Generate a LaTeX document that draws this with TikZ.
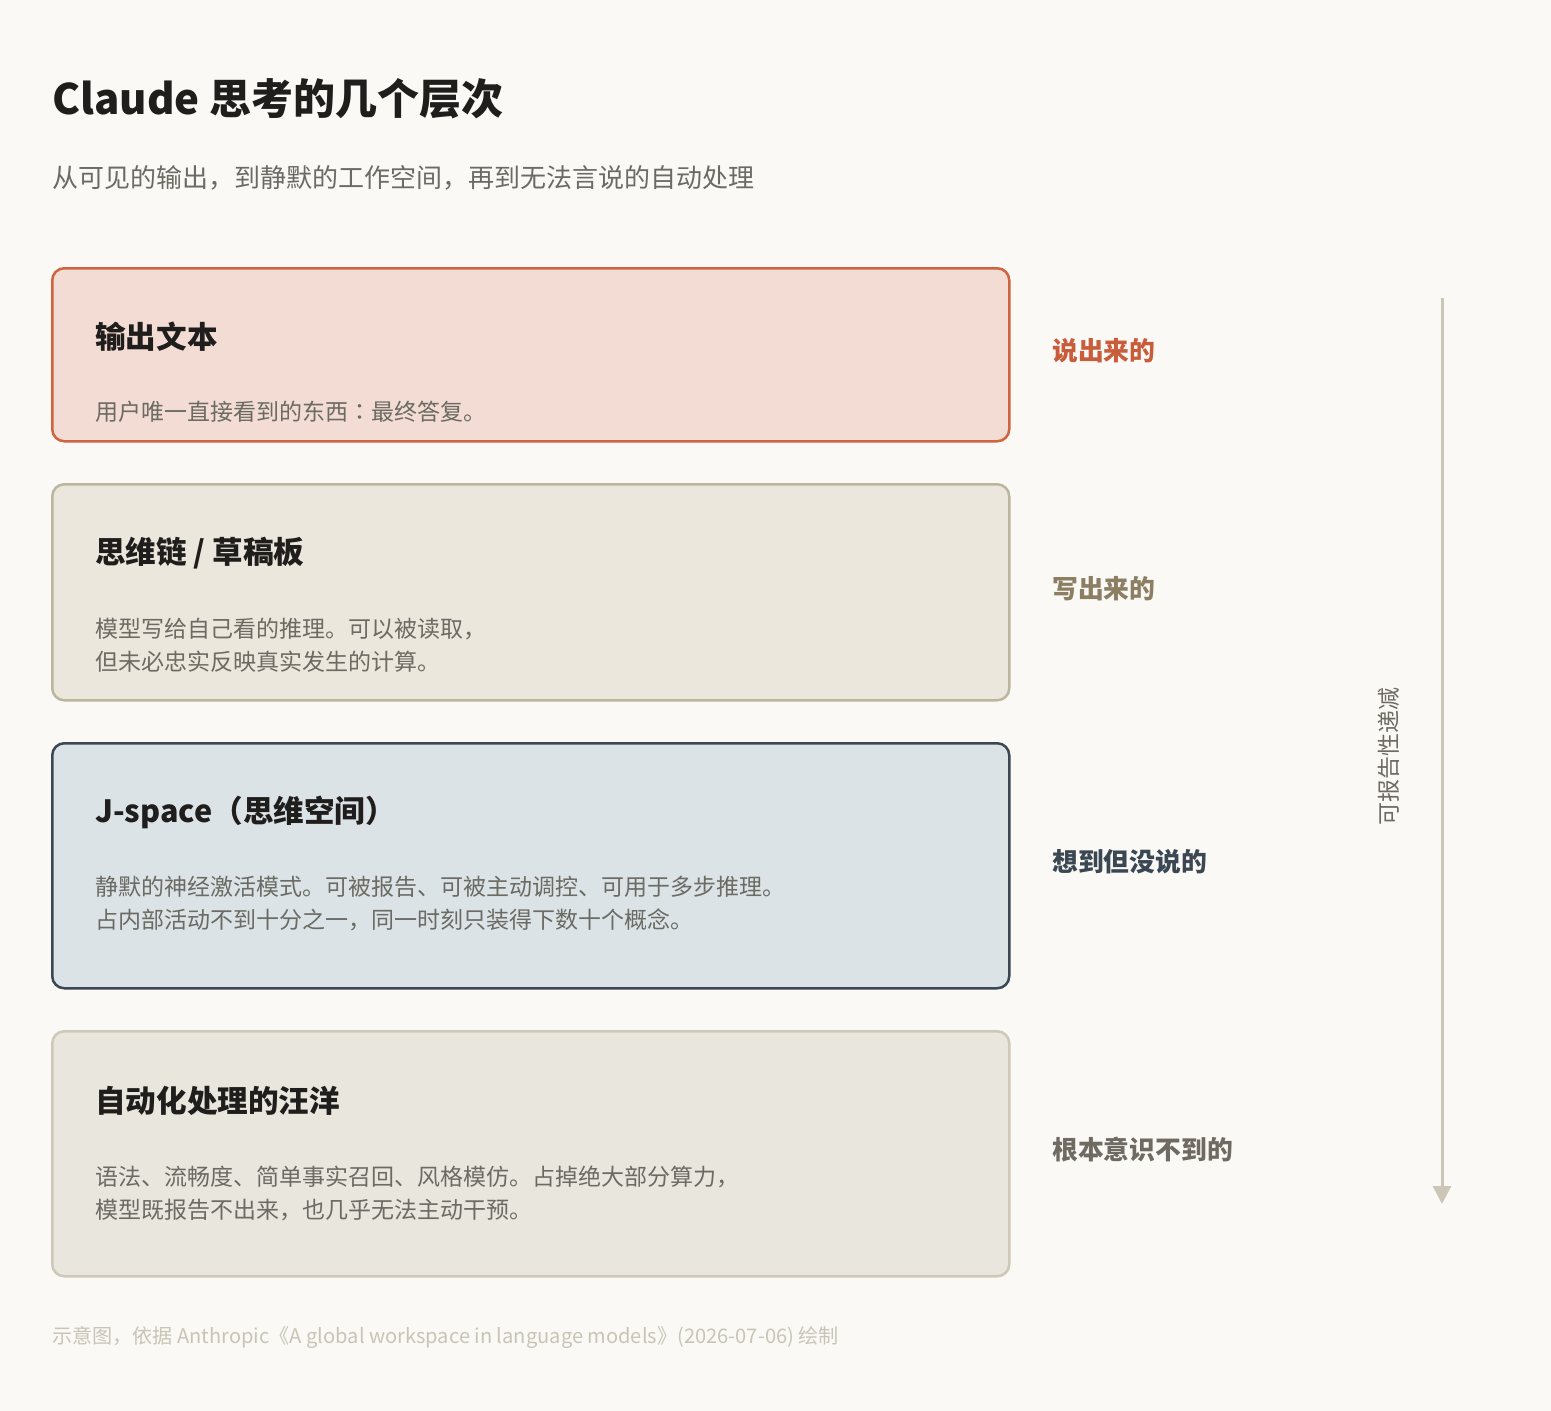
\documentclass[tikz,border=0pt]{standalone}
\usepackage{fontspec}
\setmainfont{Noto Sans CJK SC}
\newfontfamily\tcfont{Noto Sans CJK TC}
\usetikzlibrary{arrows.meta}
\definecolor{bg}{HTML}{FAF9F5}
\definecolor{titlec}{HTML}{1F1E1C}
\definecolor{subc}{HTML}{6B6A63}
\definecolor{fa}{HTML}{F2DCD3}\definecolor{da}{HTML}{CF6440}
\definecolor{fb}{HTML}{ECE7DD}\definecolor{db}{HTML}{BEB59F}
\definecolor{fc}{HTML}{DCE3E7}\definecolor{dc}{HTML}{3B4853}
\definecolor{fd}{HTML}{E9E6DE}\definecolor{dd}{HTML}{CEC8B9}
\definecolor{la}{HTML}{C95C3A}
\definecolor{lb}{HTML}{8C7E62}
\definecolor{lc}{HTML}{3B4853}
\definecolor{ld}{HTML}{6F6B63}
\definecolor{arrc}{HTML}{CBC6B8}
\definecolor{footc}{HTML}{C9C4B6}
\begin{document}
\begin{tikzpicture}[x=1pt,y=-1pt,
  layerbox/.style={rectangle, rounded corners=12pt, line width=2.5pt, minimum width=957pt, anchor=north west, inner sep=0pt},
  headtxt/.style={anchor=west, inner sep=0pt, text=titlec, font=\fontsize{30.6}{36}\selectfont\bfseries},
  bodytxt/.style={anchor=west, inner sep=0pt, text=subc, align=left, font=\fontsize{23}{33}\selectfont},
  sidetxt/.style={anchor=west, inner sep=0pt, font=\fontsize{25.8}{30}\selectfont\bfseries}]
\fill[bg] (0,0) rectangle (1551,1411);
\useasboundingbox (0,0) rectangle (1551,1411);
\node[anchor=west, inner sep=0pt, text=titlec, font=\fontsize{42}{50}\selectfont\bfseries] (title) at (52,99) {Claude 思考的几个层次};
\node[anchor=west, inner sep=0pt, text=subc, font=\fontsize{26}{30}\selectfont] (subtitle) at (52,178) {从可见的输出，到静默的工作空间，再到无法言说的自动处理};
% boxes
\node[layerbox, fill=fa, draw=da, minimum height=173pt] (b1) at (51,267) {};
\node[layerbox, fill=fb, draw=db, minimum height=216pt] (b2) at (51,483) {};
\node[layerbox, fill=fc, draw=dc, minimum height=245pt] (b3) at (51,742) {};
\node[layerbox, fill=fd, draw=dd, minimum height=245pt] (b4) at (51,1030) {};
% headings
\node[headtxt] (h1) at (95,337) {输出文本};
\node[bodytxt] (t1) at (95,412) {用户唯一直接看到的东西{\tcfont ：}最终答复。};
\node[headtxt] (h2) at (95,553) {思维链 / 草稿板};
\node[bodytxt] (t2) at (95,645) {模型写给自己看的推理。可以被读取，\\但未必忠实反映真实发生的计算。};
\node[headtxt] (h3) at (95,812) {J-space（思维空间）};
\node[bodytxt] (t3) at (95,904) {静默的神经激活模式。可被报告、可被主动调控、可用于多步推理。\\占内部活动不到十分之一，同一时刻只装得下数十个概念。};
\node[headtxt] (h4) at (95,1101) {自动化处理的汪洋};
\node[bodytxt] (t4) at (95,1193) {语法、流畅度、简单事实召回、风格模仿。占掉绝大部分算力，\\模型既报告不出来，也几乎无法主动干预。};
% side labels
\node[sidetxt, text=la] (s1) at (1052,351) {说出来的};
\node[sidetxt, text=lb] (s2) at (1052,589) {写出来的};
\node[sidetxt, text=lc] (s3) at (1052,862) {想到但没说的};
\node[sidetxt, text=ld] (s4) at (1052,1150) {根本意识不到的};
% arrow
\coordinate (atop) at (1442,298);
\coordinate (abot) at (1442,1204);
\draw[arrc, line width=3pt, -{Triangle[width=18pt,length=18pt]}] (atop) -- (abot);
\node[rotate=90, inner sep=0pt, text=ld, font=\fontsize{23}{26}\selectfont] (vlab) at (1389,756) {可报告性递减};
% footer
\node[anchor=west, inner sep=0pt, text=footc, font=\fontsize{20.1}{24}\selectfont] (foot) at (52,1337) {示意图，依据 Anthropic《A global workspace in language models》(2026-07-06) 绘制};
\end{tikzpicture}
\end{document}
